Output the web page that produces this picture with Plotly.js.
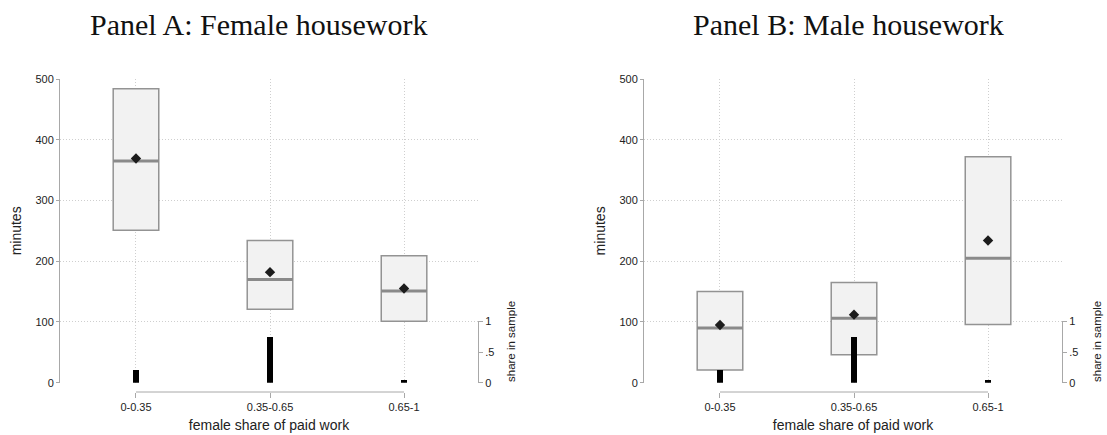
<!DOCTYPE html>
<html>
<head>
<meta charset="utf-8">
<script src="https://cdn.plot.ly/plotly-3.0.1.min.js"></script>
<style>html,body{margin:0;padding:0;background:#fff;}#chart{width:1107px;height:435px;}</style>
</head>
<body>
<div id="chart"></div>
<script>
// ---- data ----
var categories = ['0-0.35', '0.35-0.65', '0.65-1'];
var catIdx = [0, 1, 2];
var femaleQ1 = [251, 121, 101];
var femaleMedian = [365, 170, 151];
var femaleQ3 = [484, 234, 209];
var femaleMean = [369, 182, 155];
var maleQ1 = [21, 46, 96];
var maleMedian = [90, 106, 205];
var maleQ3 = [150, 165, 372];
var maleMean = [95, 112, 234];
var shareInSample = [0.21, 0.74, 0.05];
var shareTickVals = [0, 0.5, 1];
var shareTickText = ['0', '.5', '1'];
var panelTitles = ['Panel A: Female housework', 'Panel B: Male housework'];

// ---- style ----
var W = 1107;
var boxW = 0.34, barW = 0.045;
var boxLine = '#939393', medLine = '#8a8a8a', fill = '#f2f2f2';
var gridC = '#cfcfcf', axC = '#a8a8a8', txt = '#222';
var sans = 'Liberation Sans, Arial, sans-serif';

function medianSegs(med) {
  var xs = [], ys = [];
  catIdx.forEach(function (c, i) {
    xs.push(c - boxW / 2, c + boxW / 2, null);
    ys.push(med[i], med[i], null);
  });
  return {x: xs, y: ys};
}

function panelTraces(q1, med, q3, mean, xa, ya, xsh, ysh) {
  var m = medianSegs(med);
  return [
    {type: 'box', x: catIdx, q1: q1, median: med, q3: q3, lowerfence: q1, upperfence: q3,
     width: boxW, whiskerwidth: 0, fillcolor: fill, line: {color: boxLine, width: 1.5},
     xaxis: xa, yaxis: ya, hoverinfo: 'skip', showlegend: false},
    {type: 'scatter', mode: 'lines', x: m.x, y: m.y, line: {color: medLine, width: 3},
     xaxis: xa, yaxis: ya, hoverinfo: 'skip', showlegend: false},
    {type: 'scatter', mode: 'markers', x: catIdx, y: mean,
     marker: {symbol: 'diamond', size: 8, color: '#1c1c1c'},
     xaxis: xa, yaxis: ya, hoverinfo: 'skip', showlegend: false},
    {type: 'bar', x: catIdx, y: shareInSample, width: barW, marker: {color: '#000', line: {width: 0}},
     xaxis: xsh, yaxis: ysh, hoverinfo: 'skip', showlegend: false}
  ];
}

var data = [].concat(
  panelTraces(femaleQ1, femaleMedian, femaleQ3, femaleMean, 'x', 'y', 'x3', 'y2'),
  panelTraces(maleQ1, maleMedian, maleQ3, maleMean, 'x2', 'y3', 'x4', 'y4')
);

var yDom = [0.0297, 1];
var shDom = [0.0297, 0.2259];
var xr = [-0.567, 2.552];
var domA = [60 / W, 478 / W], domB = [644 / W, 1062 / W];

function xAxis(dom) {
  return {domain: dom, range: xr, anchor: 'free', position: 0,
    tickvals: catIdx, ticktext: categories, ticks: 'outside', ticklen: 5, tickcolor: axC,
    showline: false, zeroline: false, showgrid: true, gridcolor: gridC, griddash: '1px,2px', gridwidth: 1,
    tickfont: {family: sans, size: 11, color: txt},
    title: {text: 'female share of paid work', font: {family: sans, size: 14, color: txt}, standoff: 7}};
}
function xHidden(dom, ya) {
  return {domain: dom, range: xr, anchor: ya, visible: false, showgrid: false, zeroline: false};
}
function yAxis(xa) {
  return {domain: yDom, range: [0, 500], anchor: xa, tickvals: [0, 100, 200, 300, 400, 500],
    ticks: 'outside', ticklen: 3, tickcolor: axC, showline: true, linecolor: axC, linewidth: 1,
    zeroline: false, showgrid: true, gridcolor: gridC, griddash: '1px,2px', gridwidth: 1,
    tickfont: {family: sans, size: 11, color: txt},
    title: {text: 'minutes', font: {family: sans, size: 14, color: txt}, standoff: 10}};
}
function shAxis(xa) {
  return {domain: shDom, range: [0, 1], anchor: xa, side: 'right', tickvals: shareTickVals,
    ticktext: shareTickText, ticks: 'outside', ticklen: 4, tickcolor: axC, showline: true,
    linecolor: axC, linewidth: 1, zeroline: false, showgrid: false,
    tickfont: {family: sans, size: 11, color: txt}};
}

var layout = {
  width: 1107, height: 435,
  margin: {l: 0, r: 0, t: 79, b: 43},
  paper_bgcolor: '#fff', plot_bgcolor: 'rgba(0,0,0,0)',
  showlegend: false, bargap: 0,
  xaxis: xAxis(domA),
  xaxis2: xAxis(domB),
  xaxis3: xHidden(domA, 'y2'),
  xaxis4: xHidden(domB, 'y4'),
  yaxis: yAxis('x'),
  yaxis2: shAxis('x3'),
  yaxis3: yAxis('x2'),
  yaxis4: shAxis('x4'),
  shapes: [
    {type: 'line', xref: 'x', yref: 'paper', x0: catIdx[0], x1: catIdx[catIdx.length - 1], y0: 0, y1: 0,
     line: {color: axC, width: 1}},
    {type: 'line', xref: 'x2', yref: 'paper', x0: catIdx[0], x1: catIdx[catIdx.length - 1], y0: 0, y1: 0,
     line: {color: axC, width: 1}}
  ],
  annotations: [
    {text: panelTitles[0], xref: 'paper', yref: 'paper', x: 258.5 / W, y: 1 + (79 - 24) / 313,
     xanchor: 'center', yanchor: 'middle', showarrow: false,
     font: {family: 'Liberation Serif, Times New Roman, serif', size: 30, color: '#111'}},
    {text: panelTitles[1], xref: 'paper', yref: 'paper', x: 848 / W, y: 1 + (79 - 24) / 313,
     xanchor: 'center', yanchor: 'middle', showarrow: false,
     font: {family: 'Liberation Serif, Times New Roman, serif', size: 30, color: '#111'}},
    {text: 'share in sample', xref: 'paper', yref: 'paper', x: 511 / W, y: (392 - 342) / 313,
     xanchor: 'center', yanchor: 'middle', textangle: -90, showarrow: false,
     font: {family: sans, size: 11.5, color: txt}},
    {text: 'share in sample', xref: 'paper', yref: 'paper', x: 1097 / W, y: (392 - 342) / 313,
     xanchor: 'center', yanchor: 'middle', textangle: -90, showarrow: false,
     font: {family: sans, size: 11.5, color: txt}}
  ]
};

Plotly.newPlot('chart', data, layout, {staticPlot: true, displayModeBar: false});
</script>
</body>
</html>
